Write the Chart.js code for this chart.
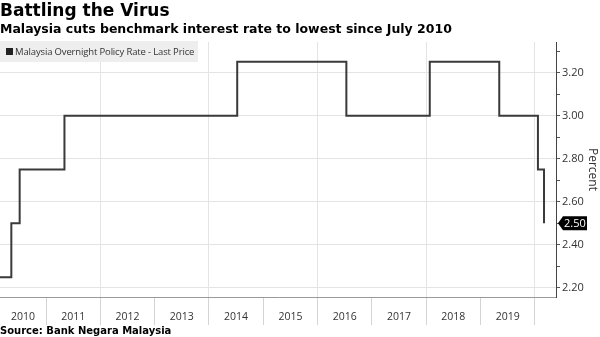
<!DOCTYPE html>
<html>
<head>
<meta charset="utf-8">
<script src="https://cdn.jsdelivr.net/npm/chart.js@4"></script>
<style>
  body { margin: 0; background: #fff; }
  #wrap { position: relative; width: 600px; height: 337px; overflow: hidden; }
  #chart { position: absolute; left: 0; top: 0; }
  .txt { position: absolute; left: 0; white-space: nowrap; color: #000; font-family: "DejaVu Sans", sans-serif; font-weight: bold; }
  #title { top: 0px; font-size: 17px; }
  #subtitle { top: 21px; font-size: 12.5px; }
  #source { top: 325px; font-size: 10px; }
  #legend { position: absolute; left: 0; top: 41px; width: 198px; height: 21px; background: #eeeeee;
            font-family: "Open Sans", sans-serif; font-size: 9.5px; letter-spacing: -0.15px; color: #333; line-height: 21px; white-space: nowrap; }
  #legend span.sq { display: inline-block; width: 7px; height: 7px; background: #222; margin: 0 2px 0 6px; }
</style>
</head>
<body>
<div id="wrap">
  <canvas id="chart" width="600" height="337"></canvas>
  <div id="title" class="txt">Battling the Virus</div>
  <div id="subtitle" class="txt">Malaysia cuts benchmark interest rate to lowest since July 2010</div>
  <div id="legend"><span class="sq"></span>Malaysia Overnight Policy Rate - Last Price</div>
  <div id="source" class="txt">Source: Bank Negara Malaysia</div>
</div>
<script>
// policy rate changes (first entry = where the chart window starts)
var rateDates = ['2010-02-25', '2010-05-13', '2010-07-08', '2011-05-05', '2014-07-10',
                 '2016-07-13', '2018-01-25', '2019-05-07', '2020-01-22', '2020-03-03'];
var rateValues = [2.25, 2.50, 2.75, 3.00, 3.25, 3.00, 3.25, 3.00, 2.75, 2.50];
var yearLabels = ['2010', '2011', '2012', '2013', '2014', '2015', '2016', '2017', '2018', '2019'];
var yTicks = [2.20, 2.40, 2.60, 2.80, 3.00, 3.20];

// date string -> decimal year
function toYear(s) {
  var d = new Date(s + 'T00:00:00Z');
  var y = d.getUTCFullYear();
  var start = Date.UTC(y, 0, 1), end = Date.UTC(y + 1, 0, 1);
  return y + (d.getTime() - start) / (end - start);
}

var points = rateDates.map(function (s, i) { return { x: toYear(s), y: rateValues[i] }; });
var xMin = 2010.153, xMax = 2020.39;

function isMajor(v) {
  return yTicks.some(function (t) { return Math.abs(t - v) < 0.001; });
}

// year names centred in each year's band + last price tag
var extras = {
  id: 'extras',
  afterDraw: function (chart) {
    var ctx = chart.ctx, xs = chart.scales.x, ys = chart.scales.y, area = chart.chartArea;
    ctx.save();
    ctx.font = '10.5px "Open Sans", sans-serif';
    ctx.fillStyle = '#333';
    ctx.textAlign = 'center';
    ctx.textBaseline = 'middle';
    yearLabels.forEach(function (lbl) {
      var y0 = Math.max(+lbl, xMin), y1 = Math.min(+lbl + 1, xMax);
      var px = (xs.getPixelForValue(y0) + xs.getPixelForValue(y1)) / 2;
      ctx.fillText(lbl, px, area.bottom + 20);
    });
    // last price tag
    var last = rateValues[rateValues.length - 1];
    var py = ys.getPixelForValue(last);
    var x0 = area.right + 2;
    ctx.fillStyle = '#000';
    ctx.beginPath();
    ctx.moveTo(x0, py);
    ctx.lineTo(x0 + 5, py - 7);
    ctx.lineTo(x0 + 29, py - 7);
    ctx.lineTo(x0 + 29, py + 7);
    ctx.lineTo(x0 + 5, py + 7);
    ctx.closePath();
    ctx.fill();
    ctx.fillStyle = '#fff';
    ctx.font = '11px "Open Sans", sans-serif';
    ctx.textAlign = 'left';
    ctx.fillText(last.toFixed(2), x0 + 6, py + 0.5);
    ctx.restore();
  }
};

new Chart(document.getElementById('chart'), {
  type: 'line',
  data: {
    datasets: [{
      data: points,
      stepped: true,
      borderColor: '#3a3a3a',
      borderWidth: 2,
      pointRadius: 0,
      fill: false
    }]
  },
  options: {
    responsive: false,
    animation: false,
    layout: { padding: { top: 42, left: 0, right: 0, bottom: 12 } },
    plugins: { legend: { display: false }, tooltip: { enabled: false } },
    scales: {
      x: {
        type: 'linear',
        min: xMin,
        max: xMax,
        afterBuildTicks: function (s) {
          s.ticks = [2011, 2012, 2013, 2014, 2015, 2016, 2017, 2018, 2019, 2020].map(function (v) { return { value: v }; });
        },
        afterFit: function (s) { s.height = 28; },
        ticks: { display: false },
        grid: {
          // plot gridlines every other year, separators below the axis every year
          color: function (c) {
            var v = c.tick ? c.tick.value : 0;
            return v % 2 === 0 ? '#e4e4e4' : 'rgba(0,0,0,0)';
          },
          tickLength: 28,
          tickColor: '#d4d4d4'
        },
        border: { color: '#999', width: 1 }
      },
      y: {
        position: 'right',
        min: 2.158,
        max: 3.342,
        afterBuildTicks: function (s) {
          var t = [];
          for (var v = 2.2; v < 3.34; v += 0.1) t.push({ value: Math.round(v * 100) / 100 });
          s.ticks = t;
        },
        afterFit: function (s) { s.width = 44; },
        ticks: {
          padding: 2,
          color: '#333',
          font: { family: 'Open Sans', size: 11 },
          callback: function (v) { return isMajor(v) ? v.toFixed(2) : ''; }
        },
        grid: {
          tickLength: 4,
          color: function (c) {
            var v = c.tick ? c.tick.value : 0;
            return isMajor(v) ? '#e4e4e4' : 'rgba(0,0,0,0)';
          },
          tickColor: '#555'
        },
        border: { color: '#444', width: 1 },
        title: {
          display: true,
          text: 'Percent',
          color: '#333',
          font: { family: 'Open Sans', size: 12 },
          padding: 0
        }
      }
    }
  },
  plugins: [extras]
});
</script>
</body>
</html>
